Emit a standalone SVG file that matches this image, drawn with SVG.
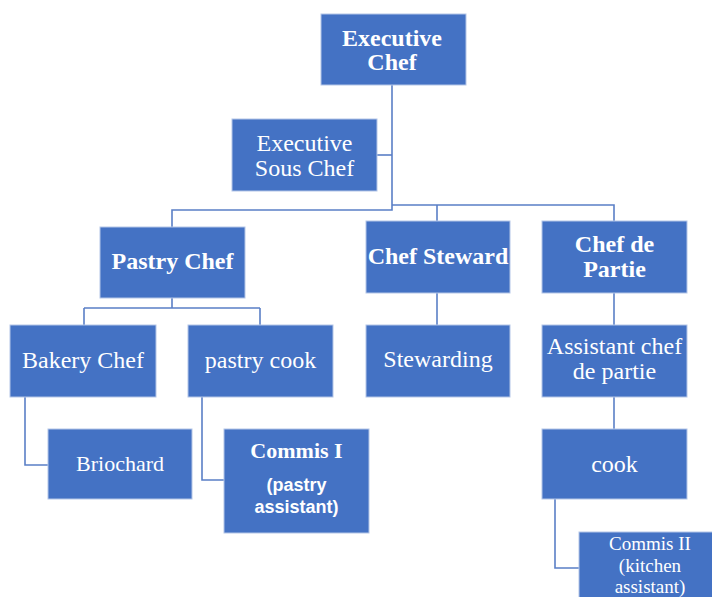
<svg xmlns="http://www.w3.org/2000/svg" width="712" height="597" viewBox="0 0 712 597">
  <style>
    .box { fill: #4472c4; stroke: #b4c6e7; stroke-width: 1; }
    .link { fill: none; stroke: #5a7fc6; stroke-width: 1.6; }
    text { fill: #ffffff; text-anchor: middle; font-family: "Liberation Serif", "Times New Roman", serif; font-size: 24px; }
    .b { font-weight: bold; }
    .sans { font-family: "Liberation Sans", Arial, sans-serif; font-weight: bold; font-size: 18px; }
    .small { font-size: 19px; }
  </style>
  <rect width="712" height="597" fill="#ffffff"/>

  <!-- connectors -->
  <g id="connectors">
    <path class="link" d="M392 85 V210 H172 V227"/>
    <path class="link" d="M377 155 H392"/>
    <path class="link" d="M392 205 H614 V221 M437 205 V221"/>
    <path class="link" d="M172 298 V308 M84 308 H260 M84 308 V325 M260 308 V325"/>
    <path class="link" d="M437 293 V325"/>
    <path class="link" d="M614 293 V325"/>
    <path class="link" d="M25 397 V465 H48"/>
    <path class="link" d="M202 397 V480 H224"/>
    <path class="link" d="M614 397 V429"/>
    <path class="link" d="M555 499 V568 H579"/>
  </g>

  <g id="executive-chef">
    <rect class="box" x="321" y="14" width="145" height="71"/>
    <text class="b" x="392" y="46">Executive</text>
    <text class="b" x="392" y="70">Chef</text>
  </g>
  <g id="executive-sous-chef">
    <rect class="box" x="232" y="119" width="145" height="72"/>
    <text x="304.5" y="151">Executive</text>
    <text x="304.5" y="176">Sous Chef</text>
  </g>
  <g id="pastry-chef">
    <rect class="box" x="100" y="227" width="145" height="71"/>
    <text class="b" x="172.5" y="269">Pastry Chef</text>
  </g>
  <g id="chef-steward">
    <rect class="box" x="366" y="221" width="144" height="72"/>
    <text class="b" x="438" y="264">Chef Steward</text>
  </g>
  <g id="chef-de-partie">
    <rect class="box" x="542" y="221" width="145" height="72"/>
    <text class="b" x="614.5" y="252">Chef de</text>
    <text class="b" x="614.5" y="277">Partie</text>
  </g>
  <g id="bakery-chef">
    <rect class="box" x="10" y="325" width="146" height="72"/>
    <text x="83" y="368">Bakery Chef</text>
  </g>
  <g id="pastry-cook">
    <rect class="box" x="188" y="325" width="145" height="72"/>
    <text x="260.5" y="368">pastry cook</text>
  </g>
  <g id="stewarding">
    <rect class="box" x="366" y="325" width="144" height="72"/>
    <text x="438" y="367">Stewarding</text>
  </g>
  <g id="assistant-chef-de-partie">
    <rect class="box" x="542" y="325" width="145" height="72"/>
    <text x="614.5" y="354">Assistant chef</text>
    <text x="614.5" y="379">de partie</text>
  </g>
  <g id="briochard">
    <rect class="box" x="48" y="429" width="144" height="70"/>
    <text x="120" y="471" style="font-size:22px">Briochard</text>
  </g>
  <g id="commis-i">
    <rect class="box" x="224" y="429" width="145" height="104"/>
    <text class="b" x="296.5" y="458" style="font-size:22px">Commis I</text>
    <text class="sans" x="296.5" y="491">(pastry</text>
    <text class="sans" x="296.5" y="513">assistant)</text>
  </g>
  <g id="cook">
    <rect class="box" x="542" y="429" width="145" height="70"/>
    <text x="614.5" y="472">cook</text>
  </g>
  <g id="commis-ii">
    <rect class="box" x="579" y="532" width="144" height="80"/>
    <text class="small" x="650" y="550">Commis II</text>
    <text class="small" x="650" y="572">(kitchen</text>
    <text class="small" x="650" y="593">assistant)</text>
  </g>
</svg>
